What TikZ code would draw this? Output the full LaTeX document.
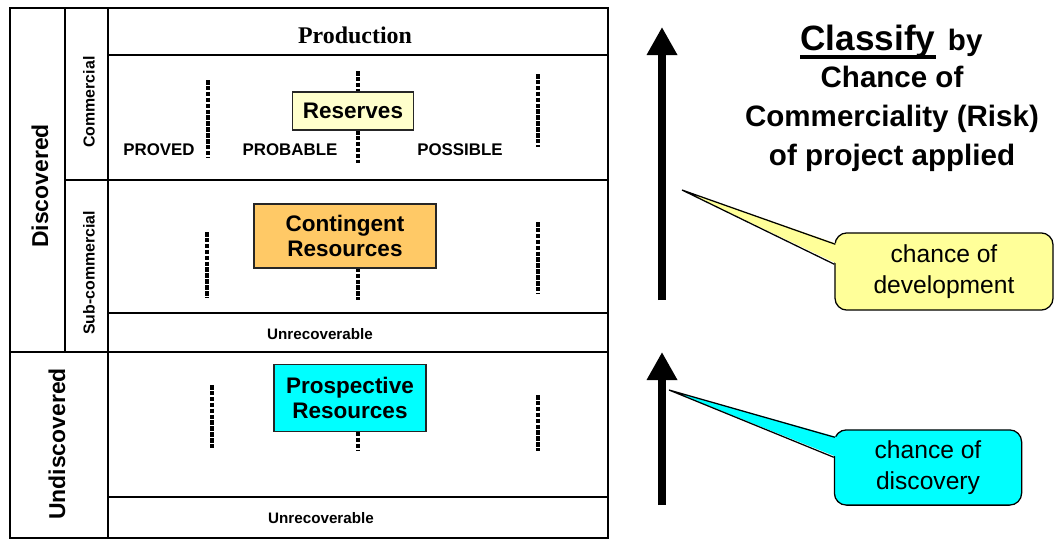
\documentclass[tikz,border=0pt]{standalone}
\usepackage{fontspec}
\setmainfont{Liberation Sans}
\newfontfamily\prodfont{Liberation Serif}
\usepackage{xcolor}
\usetikzlibrary{positioning,calc,arrows.meta}

\definecolor{reservefill}{HTML}{FFFFCC}
\definecolor{contingentfill}{HTML}{FFC966}
\definecolor{prospectfill}{HTML}{00FFFF}
\definecolor{devfill}{HTML}{FFFF99}
\definecolor{discfill}{HTML}{00FFFF}

\tikzset{
	grid line/.style={line width=1.6pt},
	divider/.style={line width=2.8pt, dash pattern=on 3.2pt off 1pt},
	class box/.style={draw=black!85, line width=0.9pt, align=center, inner sep=0pt, font=\bfseries\fontsize{16}{18}\selectfont},
	side label/.style={rotate=90, font=\bfseries\fontsize{11.3}{13}\selectfont},
	big label/.style={rotate=90, font=\bfseries\fontsize{16.3}{18}\selectfont},
	tier label/.style={font=\bfseries\fontsize{12}{14}\selectfont},
	small label/.style={font=\bfseries\fontsize{10.8}{12}\selectfont},
	bubble/.style={draw=black, line width=0.9pt, rounded corners=0.3cm, align=center, inner sep=0pt, font=\fontsize{17.5}{22}\selectfont},
	rise arrow/.style={line width=6pt, -{Triangle[width=0.72cm, length=0.7cm]}}
}

\begin{document}
\begin{tikzpicture}[x=0.025cm, y=-0.025cm]
	\useasboundingbox (0,0) rectangle (1064,540);

	\draw[grid line] (10,8) rectangle (608,538);
	\draw[grid line] (65,8) -- (65,352);
	\draw[grid line] (108,8) -- (108,538);
	\draw[grid line] (108,55) -- (608,55);
	\draw[grid line] (65,180) -- (608,180);
	\draw[grid line] (108,313) -- (608,313);
	\draw[grid line] (10,352) -- (608,352);
	\draw[grid line] (108,497) -- (608,497);

	\foreach \xa/\ya/\yb in {208/80/158, 358/71/163, 538/74/147, 207/232/297, 358/250/300, 538/222/293, 212/385/448, 358/420/450, 538/395/451}
		\draw[divider] (\xa,\ya) -- (\xa,\yb);

	\node[font=\prodfont\bfseries\fontsize{17}{20}\selectfont] (prod) at (355,35) {Production};
	\node[tier label] (proved) at (159,150) {PROVED};
	\node[tier label] (probable) at (290,150) {PROBABLE};
	\node[tier label] (possible) at (460,150) {POSSIBLE};

	\node[side label] (comm) at (89,102) {Commercial};
	\node[side label] (subcomm) at (89,273) {Sub-commercial};
	\node[big label] (disc) at (40,186) {Discovered};
	\node[big label] (undisc) at (57,444) {Undiscovered};
	\node[small label] (unrec1) at (320,334) {Unrecoverable};
	\node[small label] (unrec2) at (321,518) {Unrecoverable};

	\node[class box, fill=reservefill, minimum width=3.03cm, minimum height=0.95cm] (res) at (353,111) {Reserves};
	\node[class box, fill=contingentfill, minimum width=4.55cm, minimum height=1.6cm] (cont) at (345,236) {Contingent\\Resources};
	\node[class box, fill=prospectfill, minimum width=3.8cm, minimum height=1.68cm] (pros) at (350,398) {Prospective\\Resources};

	\coordinate (devfoot) at (662,300);
	\coordinate (devhead) at (662,27);
	\draw[rise arrow] (devfoot) -- (devhead);
	\coordinate (discfoot) at (662,505);
	\coordinate (dischead) at (662,352);
	\draw[rise arrow] (discfoot) -- (dischead);

	\node[font=\bfseries\fontsize{25}{30}\selectfont, anchor=base, inner sep=0pt] (classify) at (868,50) {Classify};
	\node[font=\bfseries\fontsize{21}{25}\selectfont, anchor=base west, inner sep=0pt, xshift=0.3cm] (by) at (classify.base east) {by};
	\draw[line width=2.8pt] ([yshift=-0.175cm]classify.base west) -- ([yshift=-0.175cm]classify.base east);
	\node[font=\bfseries\fontsize{21}{27.5}\selectfont, align=center] (chance) at (892,119) {Chance of\\Commerciality (Risk)\\of project applied};

	\node[bubble, fill=devfill, minimum width=5.45cm, minimum height=1.93cm] (dev) at (944,271.5) {chance of\\development};
	\coordinate (devtip) at (682,190);
	\fill[devfill] ($(dev.north west)+(4,12)$) -- (devtip) -- ($(dev.north west)+(4,32)$) -- cycle;
	\draw[line width=0.9pt] ($(dev.north west)+(1,12)$) -- (devtip) -- ($(dev.north west)+(0,32)$);

	\node[bubble, fill=discfill, minimum width=4.68cm, minimum height=1.88cm] (disco) at (928,467.5) {chance of\\discovery};
	\coordinate (disctip) at (669,390);
	\fill[discfill] ($(disco.north west)+(4,8)$) -- (disctip) -- ($(disco.north west)+(4,28)$) -- cycle;
	\draw[line width=0.9pt] ($(disco.north west)+(1,8)$) -- (disctip) -- ($(disco.north west)+(0,28)$);
\end{tikzpicture}
\end{document}
